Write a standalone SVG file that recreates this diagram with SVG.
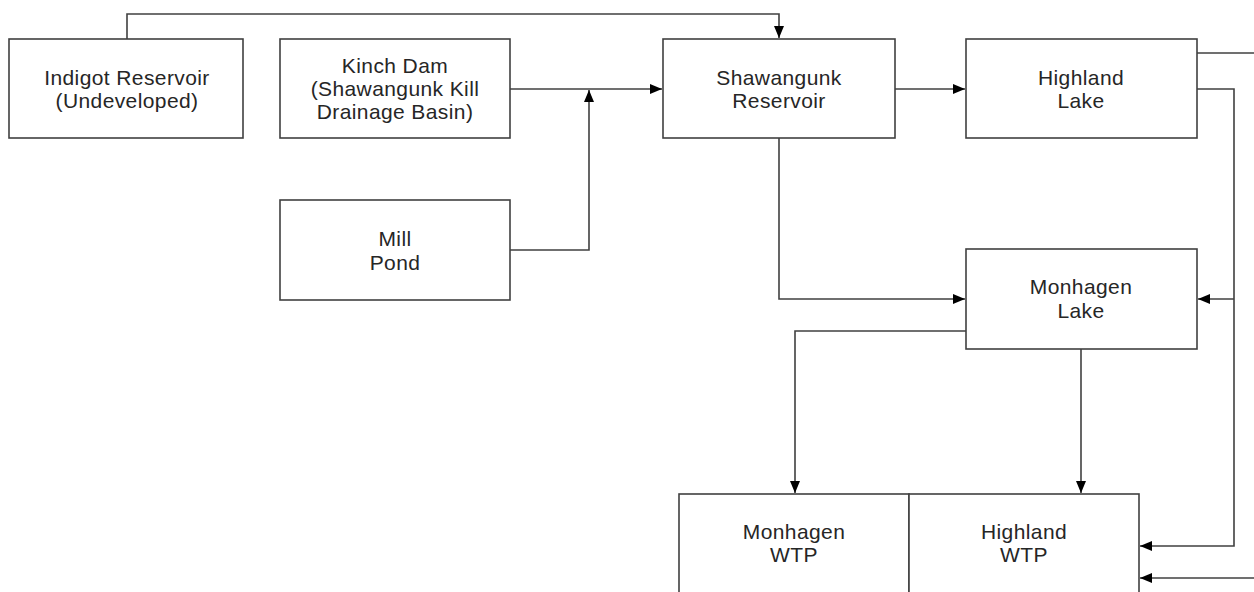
<svg xmlns="http://www.w3.org/2000/svg" width="1254" height="592" viewBox="0 0 1254 592">
<style>
.box{fill:#fff;stroke:#404040;stroke-width:1.6}
.t{font-family:"Liberation Sans",Arial,sans-serif;font-size:21px;letter-spacing:0.4px;fill:#262626;text-anchor:middle}
.c{fill:none;stroke:#404040;stroke-width:1.6}
</style>
<defs>
<marker id="ah" viewBox="0 0 12 10" refX="12" refY="5" markerWidth="12" markerHeight="10" markerUnits="userSpaceOnUse" orient="auto">
<path d="M0,0 L12,5 L0,10 Z" fill="#000"/>
</marker>
</defs>
<rect width="1254" height="592" fill="#fff"/>
<g id="connectors">
<path class="c" d="M127,39 V14 H779 V38" marker-end="url(#ah)"/>
<path class="c" d="M510,89 H662" marker-end="url(#ah)"/>
<path class="c" d="M510,250 H589 V90" marker-end="url(#ah)"/>
<path class="c" d="M895,89 H965" marker-end="url(#ah)"/>
<path class="c" d="M1197,53 H1254"/>
<path class="c" d="M1197,89 H1234 V546 H1140" marker-end="url(#ah)"/>
<path class="c" d="M1234,299 H1198" marker-end="url(#ah)"/>
<path class="c" d="M1254,578 H1140" marker-end="url(#ah)"/>
<path class="c" d="M779,138 V299 H965" marker-end="url(#ah)"/>
<path class="c" d="M966,331 H795 V493" marker-end="url(#ah)"/>
<path class="c" d="M1081,349 V493" marker-end="url(#ah)"/>
</g>
<g id="indigot">
<rect class="box" x="9" y="39" width="234" height="99"/>
<text class="t" x="127" y="85">Indigot Reservoir</text>
<text class="t" x="127" y="108">(Undeveloped)</text>
</g>
<g id="kinch">
<rect class="box" x="280" y="39" width="230" height="99"/>
<text class="t" x="395" y="73">Kinch Dam</text>
<text class="t" x="395" y="96">(Shawangunk Kill</text>
<text class="t" x="395" y="119">Drainage Basin)</text>
</g>
<g id="shawangunk">
<rect class="box" x="663" y="39" width="232" height="99"/>
<text class="t" x="779" y="85">Shawangunk</text>
<text class="t" x="779" y="108">Reservoir</text>
</g>
<g id="highland-lake">
<rect class="box" x="966" y="39" width="231" height="99"/>
<text class="t" x="1081" y="85">Highland</text>
<text class="t" x="1081" y="108">Lake</text>
</g>
<g id="mill-pond">
<rect class="box" x="280" y="200" width="230" height="100"/>
<text class="t" x="395" y="246">Mill</text>
<text class="t" x="395" y="270">Pond</text>
</g>
<g id="monhagen-lake">
<rect class="box" x="966" y="249" width="231" height="100"/>
<text class="t" x="1081" y="294">Monhagen</text>
<text class="t" x="1081" y="318">Lake</text>
</g>
<g id="monhagen-wtp">
<rect class="box" x="679" y="494" width="230" height="110"/>
<text class="t" x="794" y="539">Monhagen</text>
<text class="t" x="794" y="562">WTP</text>
</g>
<g id="highland-wtp">
<rect class="box" x="909" y="494" width="230" height="110"/>
<text class="t" x="1024" y="539">Highland</text>
<text class="t" x="1024" y="562">WTP</text>
</g>
</svg>
